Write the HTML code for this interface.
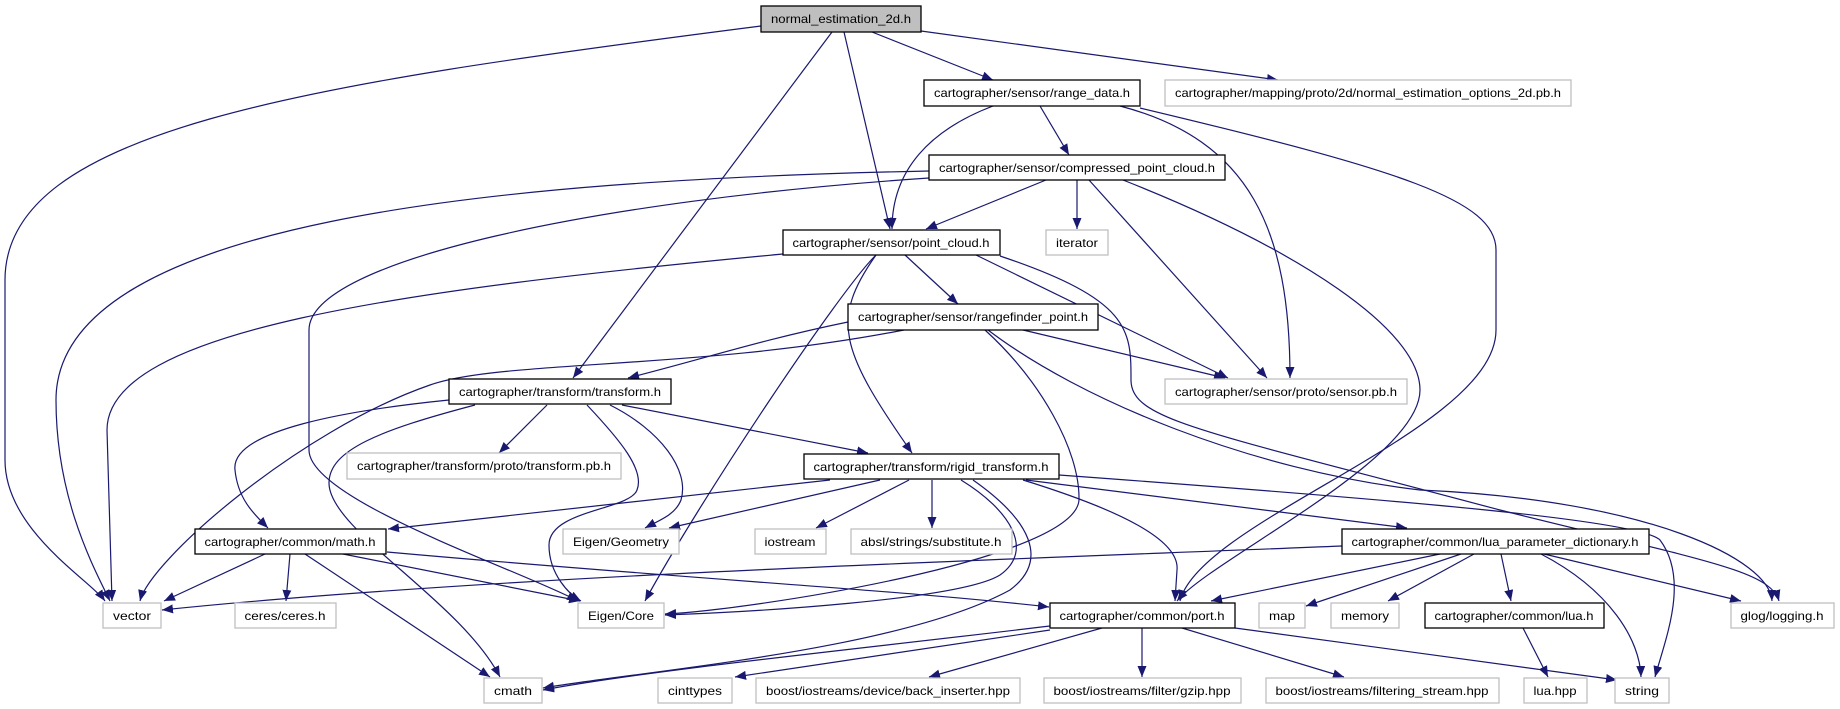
<!DOCTYPE html>
<html><head><meta charset="utf-8"><style>
html,body{margin:0;padding:0;background:#fff;}
svg{display:block;}
text{font-family:"Liberation Sans",sans-serif;font-size:12px;fill:#000;}
.e{fill:none;stroke:#191970;stroke-width:1.2;marker-end:url(#a);}
.n{fill:#fff;stroke:#000;stroke-width:1.3;}
.g{fill:#fff;stroke:#bfbfbf;stroke-width:1.3;}
</style></head><body>
<svg width="1840" height="709" viewBox="0 0 1840 709" xmlns="http://www.w3.org/2000/svg">
<defs><marker id="a" markerUnits="userSpaceOnUse" markerWidth="12" markerHeight="10" refX="11" refY="4.5" orient="auto"><path d="M0,0 L11,4.5 L0,9 z" fill="#191970"/></marker></defs>
<g>
<path class="e" d="M761,26 C300,85 5,130 5,280 L5,460 C5,530 90,580 105,601"/>
<path class="e" d="M832,32 L573,378"/>
<path class="e" d="M844,32 L890,229"/>
<path class="e" d="M872,32 L993,80"/>
<path class="e" d="M921,31 L1278,80"/>
<path class="e" d="M993,106 C930,130 892,170 892,229"/>
<path class="e" d="M1040,106 L1069,155"/>
<path class="e" d="M1120,106 C1250,140 1290,230 1290,378"/>
<path class="e" d="M1140,108 C1400,170 1496,200 1496,250 L1496,330 C1496,430 1200,520 1180,601"/>
<path class="e" d="M929,171 C500,180 56,220 56,400 C56,500 95,570 110,601"/>
<path class="e" d="M929,178 C600,200 309,260 309,330 L309,450 C309,500 520,570 578,601"/>
<path class="e" d="M1046,180 L926,229"/>
<path class="e" d="M1077,180 L1077,229"/>
<path class="e" d="M1089,180 L1267,378"/>
<path class="e" d="M1123,180 C1300,250 1420,330 1420,390 C1420,460 1210,560 1177,601"/>
<path class="e" d="M783,254 C400,290 107,330 107,430 L112,601"/>
<path class="e" d="M876,255 C840,290 700,500 645,601"/>
<path class="e" d="M876,255 C830,320 840,350 912,453"/>
<path class="e" d="M905,255 L958,304"/>
<path class="e" d="M976,255 L1228,378"/>
<path class="e" d="M1000,256 C1131,300 1131,330 1131,380 C1131,420 1200,430 1500,510 C1700,560 1770,570 1779,601"/>
<path class="e" d="M848,322 C760,340 700,360 628,378"/>
<path class="e" d="M904,330 C700,370 500,360 430,385 C300,430 150,560 140,601"/>
<path class="e" d="M1023,330 L1225,378"/>
<path class="e" d="M985,330 C1040,380 1080,450 1079,500 C1075,560 750,610 665,614"/>
<path class="e" d="M988,330 C1080,400 1250,470 1420,490 C1650,500 1770,560 1772,601"/>
<path class="e" d="M449,400 C350,410 230,430 235,470 C238,500 255,515 268,528"/>
<path class="e" d="M475,405 C380,430 329,450 329,483 C329,530 460,600 500,677"/>
<path class="e" d="M587,405 C620,440 645,470 637,490 C630,510 549,510 549,545 C549,575 570,595 581,601"/>
<path class="e" d="M610,405 C660,430 690,470 681,500 C675,515 660,520 645,528"/>
<path class="e" d="M547,405 L499,453"/>
<path class="e" d="M622,405 L868,453"/>
<path class="e" d="M830,480 L388,529"/>
<path class="e" d="M880,480 L669,528"/>
<path class="e" d="M909,480 L816,528"/>
<path class="e" d="M932,480 L932,528"/>
<path class="e" d="M961,480 C1010,510 1035,550 1000,575 C960,600 750,612 665,615"/>
<path class="e" d="M973,480 C1030,520 1050,560 1010,590 C900,650 650,670 543,688"/>
<path class="e" d="M1023,480 C1120,510 1180,540 1177,570 L1175,601"/>
<path class="e" d="M1026,480 L1407,528"/>
<path class="e" d="M1059,475 C1400,500 1640,520 1660,540 C1690,580 1665,640 1655,677"/>
<path class="e" d="M265,554 L164,601"/>
<path class="e" d="M290,554 L286,601"/>
<path class="e" d="M305,554 L490,677"/>
<path class="e" d="M343,554 L580,601"/>
<path class="e" d="M387,552 C700,580 900,590 1049,607"/>
<path class="e" d="M1342,546 C1000,560 500,575 162,610"/>
<path class="e" d="M1440,554 L1211,601"/>
<path class="e" d="M1461,554 L1306,606"/>
<path class="e" d="M1474,554 L1388,601"/>
<path class="e" d="M1501,554 L1511,601"/>
<path class="e" d="M1541,554 C1610,590 1640,640 1641,677"/>
<path class="e" d="M1544,554 L1741,601"/>
<path class="e" d="M1523,628 L1548,677"/>
<path class="e" d="M1050,626 C850,650 650,670 543,690"/>
<path class="e" d="M1050,630 L735,677"/>
<path class="e" d="M1102,628 L929,677"/>
<path class="e" d="M1142,628 L1142,677"/>
<path class="e" d="M1182,628 L1344,677"/>
<path class="e" d="M1235,628 L1617,680"/>
</g>
<g>
<rect x="761" y="6" width="160" height="26" fill="#bfbfbf" stroke="#000" stroke-width="1.3"/>
<text x="841" y="23" text-anchor="middle" textLength="140" lengthAdjust="spacingAndGlyphs">normal_estimation_2d.h</text>

<rect class="n" x="924" y="80" width="216" height="26"/><text x="1032" y="97" text-anchor="middle" textLength="196" lengthAdjust="spacingAndGlyphs">cartographer/sensor/range_data.h</text>
<rect class="g" x="1165" y="80" width="406" height="26"/><text x="1368" y="97" text-anchor="middle" textLength="386" lengthAdjust="spacingAndGlyphs">cartographer/mapping/proto/2d/normal_estimation_options_2d.pb.h</text>
<rect class="n" x="929" y="155" width="296" height="25"/><text x="1077" y="172" text-anchor="middle" textLength="276" lengthAdjust="spacingAndGlyphs">cartographer/sensor/compressed_point_cloud.h</text>
<rect class="n" x="783" y="230" width="217" height="25"/><text x="891" y="247" text-anchor="middle" textLength="197" lengthAdjust="spacingAndGlyphs">cartographer/sensor/point_cloud.h</text>
<rect class="g" x="1046" y="230" width="62" height="25"/><text x="1077" y="247" text-anchor="middle" textLength="42" lengthAdjust="spacingAndGlyphs">iterator</text>
<rect class="n" x="848" y="304" width="250" height="26"/><text x="973" y="321" text-anchor="middle" textLength="230" lengthAdjust="spacingAndGlyphs">cartographer/sensor/rangefinder_point.h</text>
<rect class="n" x="449" y="379" width="222" height="25"/><text x="560" y="396" text-anchor="middle" textLength="202" lengthAdjust="spacingAndGlyphs">cartographer/transform/transform.h</text>
<rect class="g" x="1165" y="379" width="242" height="25"/><text x="1286" y="396" text-anchor="middle" textLength="222" lengthAdjust="spacingAndGlyphs">cartographer/sensor/proto/sensor.pb.h</text>
<rect class="g" x="347" y="453" width="274" height="26"/><text x="484" y="470" text-anchor="middle" textLength="254" lengthAdjust="spacingAndGlyphs">cartographer/transform/proto/transform.pb.h</text>
<rect class="n" x="804" y="454" width="255" height="25"/><text x="931" y="471" text-anchor="middle" textLength="235" lengthAdjust="spacingAndGlyphs">cartographer/transform/rigid_transform.h</text>
<rect class="n" x="195" y="529" width="191" height="25"/><text x="290" y="546" text-anchor="middle" textLength="171" lengthAdjust="spacingAndGlyphs">cartographer/common/math.h</text>
<rect class="g" x="563" y="529" width="116" height="25"/><text x="621" y="546" text-anchor="middle" textLength="96" lengthAdjust="spacingAndGlyphs">Eigen/Geometry</text>
<rect class="g" x="755" y="529" width="71" height="25"/><text x="790" y="546" text-anchor="middle" textLength="51" lengthAdjust="spacingAndGlyphs">iostream</text>
<rect class="g" x="851" y="529" width="161" height="25"/><text x="931" y="546" text-anchor="middle" textLength="141" lengthAdjust="spacingAndGlyphs">absl/strings/substitute.h</text>
<rect class="n" x="1342" y="529" width="307" height="25"/><text x="1495" y="546" text-anchor="middle" textLength="287" lengthAdjust="spacingAndGlyphs">cartographer/common/lua_parameter_dictionary.h</text>
<rect class="g" x="103" y="603" width="58" height="25"/><text x="132" y="620" text-anchor="middle" textLength="38" lengthAdjust="spacingAndGlyphs">vector</text>
<rect class="g" x="235" y="603" width="101" height="25"/><text x="285" y="620" text-anchor="middle" textLength="81" lengthAdjust="spacingAndGlyphs">ceres/ceres.h</text>
<rect class="g" x="578" y="603" width="86" height="25"/><text x="621" y="620" text-anchor="middle" textLength="66" lengthAdjust="spacingAndGlyphs">Eigen/Core</text>
<rect class="n" x="1050" y="603" width="185" height="25"/><text x="1142" y="620" text-anchor="middle" textLength="165" lengthAdjust="spacingAndGlyphs">cartographer/common/port.h</text>
<rect class="g" x="1259" y="603" width="46" height="25"/><text x="1282" y="620" text-anchor="middle" textLength="26" lengthAdjust="spacingAndGlyphs">map</text>
<rect class="g" x="1331" y="603" width="68" height="25"/><text x="1365" y="620" text-anchor="middle" textLength="48" lengthAdjust="spacingAndGlyphs">memory</text>
<rect class="n" x="1425" y="603" width="179" height="25"/><text x="1514" y="620" text-anchor="middle" textLength="159" lengthAdjust="spacingAndGlyphs">cartographer/common/lua.h</text>
<rect class="g" x="1731" y="603" width="103" height="25"/><text x="1782" y="620" text-anchor="middle" textLength="83" lengthAdjust="spacingAndGlyphs">glog/logging.h</text>
<rect class="g" x="484" y="678" width="58" height="25"/><text x="513" y="695" text-anchor="middle" textLength="38" lengthAdjust="spacingAndGlyphs">cmath</text>
<rect class="g" x="658" y="678" width="74" height="25"/><text x="695" y="695" text-anchor="middle" textLength="54" lengthAdjust="spacingAndGlyphs">cinttypes</text>
<rect class="g" x="756" y="678" width="264" height="25"/><text x="888" y="695" text-anchor="middle" textLength="244" lengthAdjust="spacingAndGlyphs">boost/iostreams/device/back_inserter.hpp</text>
<rect class="g" x="1044" y="678" width="197" height="25"/><text x="1142" y="695" text-anchor="middle" textLength="177" lengthAdjust="spacingAndGlyphs">boost/iostreams/filter/gzip.hpp</text>
<rect class="g" x="1266" y="678" width="233" height="25"/><text x="1382" y="695" text-anchor="middle" textLength="213" lengthAdjust="spacingAndGlyphs">boost/iostreams/filtering_stream.hpp</text>
<rect class="g" x="1524" y="678" width="63" height="25"/><text x="1555" y="695" text-anchor="middle" textLength="43" lengthAdjust="spacingAndGlyphs">lua.hpp</text>
<rect class="g" x="1615" y="678" width="54" height="25"/><text x="1642" y="695" text-anchor="middle" textLength="34" lengthAdjust="spacingAndGlyphs">string</text>
</g>
</svg>
</body></html>
